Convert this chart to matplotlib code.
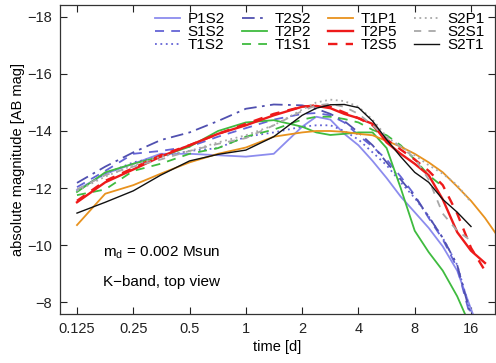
import numpy as np
import matplotlib
matplotlib.use("Agg")
import matplotlib.pyplot as plt

# ==============================
# 1. Data
# ==============================

nan = np.nan

t_days = [0.125, 0.177, 0.25, 0.35, 0.5, 0.71, 1.0, 1.41, 2.0, 2.38, 2.83, 3.36,
          4.0, 4.76, 5.66, 6.73, 8.0, 9.5, 11.3, 13.5, 16.0, 19.0, 22.0]

P1S2 = [-11.93, -12.5, -12.85, -13.2, -13.2, -13.15, -13.1, -13.2, -14.15, -14.5, -14.4, -13.9,
        -13.5, -12.95, -12.35, -11.7, -11.15, -10.6, -9.95, -9.1, -7.75, -6.5, nan]
S1S2 = [-12.03, -12.6, -13.2, -13.3, -13.45, -13.8, -14.1, -14.4, -14.6, -14.63, -14.55, -14.3,
        -13.85, -13.45, -13.0, -12.4, -11.75, -10.95, -10.2, -9.2, -7.4, -6.5, nan]
T1S2 = [-11.9, -12.5, -12.9, -13.1, -13.3, -13.4, -13.8, -13.95, -14.15, -14.2, -14.2, -14.0,
        -13.7, -13.25, -12.8, -12.2, -11.65, -11.0, -10.25, -9.3, -7.6, -6.6, nan]
T2S2 = [-12.18, -12.75, -13.25, -13.68, -13.95, -14.35, -14.78, -14.93, -14.9, -14.78, -14.6, -14.35,
        -13.95, -13.5, -12.9, -12.3, -11.7, -11.0, -10.25, -9.3, -7.5, -6.5, nan]
T2P2 = [-11.86, -12.55, -12.85, -13.1, -13.45, -14.0, -14.3, -14.38, -14.15, -13.95, -13.86, -13.9,
        -13.95, -13.95, -13.4, -12.0, -10.5, -9.75, -9.1, -8.2, -7.1, nan, nan]
T1S1 = [-11.75, -11.95, -12.6, -12.85, -13.2, -13.4, -13.8, -14.05, -14.4, -14.5, -14.5, -14.42,
        -14.3, -14.04, -13.85, -13.5, -13.0, -12.45, -12.05, nan, nan, nan, nan]
T1P1 = [-10.7, -11.8, -12.1, -12.5, -12.9, -13.2, -13.42, -13.8, -13.95, -14.0, -14.0, -13.97,
        -13.9, -13.85, -13.65, -13.45, -13.2, -12.9, -12.55, -12.05, -11.55, -10.95, -10.35]
T2P5 = [-11.5, -12.2, -12.65, -13.1, -13.5, -13.9, -14.2, -14.55, -14.85, -14.88, -14.8, -14.6,
        -14.45, -14.25, -13.6, -13.2, -12.85, -12.45, -11.6, -10.45, -9.8, -9.37, nan]
T2S5 = [-11.55, -12.25, -12.7, -13.15, -13.5, -13.9, -14.25, -14.6, -14.85, -14.9, -14.85, -14.65,
        -14.45, -14.2, -13.7, -13.35, -13.0, -12.6, -12.1, -11.1, -9.9, -9.1, nan]
S2P1 = [-11.9, -12.4, -12.8, -13.1, -13.3, -13.6, -13.85, -14.2, -14.75, -15.0, -15.1, -15.05,
        -14.85, -14.4, -13.8, -13.45, -13.15, -12.8, -12.5, -12.1, -11.5, nan, nan]
S2S1 = [-11.95, -12.45, -12.75, -13.0, -13.3, -13.55, -13.75, -14.2, -14.7, -14.9, -14.95, -14.85,
        -14.6, -14.2, -13.75, -13.45, -13.05, -12.3, -11.1, -10.5, -10.15, nan, nan]
S2T1 = [-11.12, -11.5, -11.9, -12.45, -12.95, -13.18, -13.33, -13.8, -14.55, -14.8, -14.92, -14.93,
        -14.82, -14.35, -13.7, -13.1, -12.55, -12.2, -11.6, -11.15, -10.65, nan, nan]

x_ticks = [0.125, 0.25, 0.5, 1, 2, 4, 8, 16]
x_tick_labels = ["0.125", "0.25", "0.5", "1", "2", "4", "8", "16"]
y_ticks = [-18, -16, -14, -12, -10, -8]

# ==============================
# 2. Styles
# ==============================

plt.rcParams["font.family"] = ["Liberation Sans", "DejaVu Sans"]
plt.rcParams["mathtext.fontset"] = "custom"
plt.rcParams["mathtext.rm"] = "Liberation Sans"

blue_l = "#8c8cee"
blue_m = "#6464d6"
blue_d = "#5050b0"
green = "#3fbb3f"
orange = "#e8921e"
red = "#ee1a1a"
gray = "#a8a8a8"

series = [
    ("P1S2", P1S2, blue_l, "-", 1.3),
    ("S1S2", S1S2, blue_m, (0, (5, 4)), 1.3),
    ("T1S2", T1S2, blue_m, (0, (1, 2)), 1.3),
    ("T2S2", T2S2, blue_d, (0, (7, 3, 1.5, 3)), 1.3),
    ("T2P2", T2P2, green, "-", 1.3),
    ("T1S1", T1S1, green, (0, (5, 4)), 1.3),
    ("T1P1", T1P1, orange, "-", 1.3),
    ("T2P5", T2P5, red, "-", 1.7),
    ("T2S5", T2S5, red, (0, (4, 3.5)), 1.7),
    ("S2P1", S2P1, gray, (0, (1, 2)), 1.3),
    ("S2S1", S2S1, gray, (0, (4, 4)), 1.3),
    ("S2T1", S2T1, "#111111", "-", 1.0),
]

# ==============================
# 3. Plot
# ==============================

fig = plt.figure(figsize=(4.96, 3.63), dpi=100)
ax = fig.add_axes([60 / 496, 49 / 363, 435 / 496, 309 / 363])

for name, mags, col, ls, lw in series:
    ax.plot(t_days, mags, color=col, linestyle=ls, linewidth=lw, label=name)

ax.set_xscale("log")
ax.set_xlim(0.1014, 21.5)
ax.set_ylim(-7.58, -18.42)
ax.set_xticks(x_ticks)
ax.set_xticklabels(x_tick_labels)
ax.minorticks_off()
ax.set_yticks(y_ticks)

ax.tick_params(direction="in", length=5, width=0.8, top=True, right=True,
               labelsize=10.5, pad=6, colors="#222222")
for sp in ax.spines.values():
    sp.set_linewidth(0.9)
    sp.set_color("#333333")

ax.set_xlabel("time [d]", fontsize=10.5, labelpad=3)
ax.set_ylabel("absolute magnitude [AB mag]", fontsize=10.5, labelpad=1)

ax.text(0.099, 0.20, r"m$_\mathregular{d}$ = 0.002 Msun", transform=ax.transAxes,
        fontsize=11, va="center", ha="left")
ax.text(0.099, 0.104, "K\u2212band, top view", transform=ax.transAxes,
        fontsize=11, va="center", ha="left")

ax.legend(ncol=4, frameon=False, fontsize=11, loc="upper left",
          bbox_to_anchor=(155 / 496, 1 - 12 / 363), bbox_transform=fig.transFigure,
          borderpad=0, borderaxespad=0, handlelength=1.65, handletextpad=0.5,
          columnspacing=1.1, labelspacing=-0.05)

fig.savefig("out.png", dpi=100)
